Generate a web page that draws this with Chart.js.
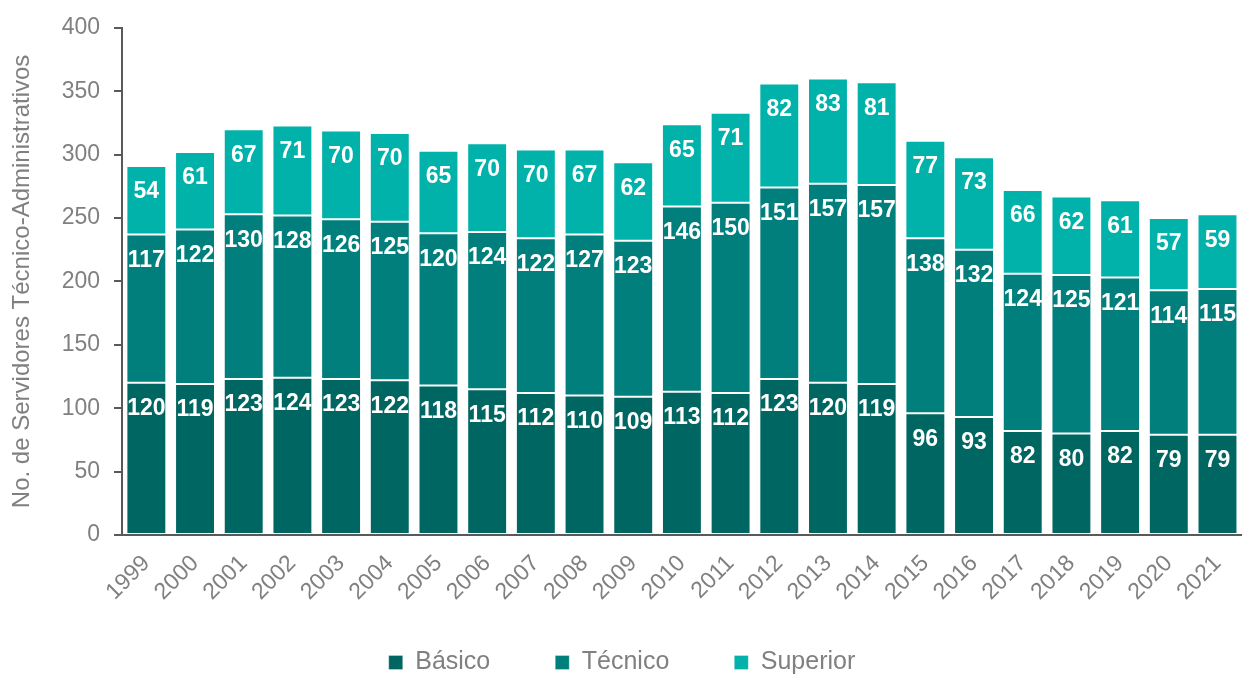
<!DOCTYPE html>
<html>
<head>
<meta charset="utf-8">
<script src="https://cdn.jsdelivr.net/npm/chart.js@4.4.1/dist/chart.umd.min.js"></script>
<style>
  html, body { margin: 0; padding: 0; background: #fff; overflow: hidden; }
  #wrap { width: 1244px; height: 685px; }
</style>
</head>
<body>
<div id="wrap"><canvas id="chart"></canvas></div>
<script>
const years = ["1999", "2000", "2001", "2002", "2003", "2004", "2005", "2006", "2007", "2008", "2009", "2010",
  "2011", "2012", "2013", "2014", "2015", "2016", "2017", "2018", "2019", "2020", "2021"];
const basico = [120, 119, 123, 124, 123, 122, 118, 115, 112, 110, 109, 113, 112, 123, 120, 119, 96, 93, 82, 80, 82, 79, 79];
const tecnico = [117, 122, 130, 128, 126, 125, 120, 124, 122, 127, 123, 146, 150, 151, 157, 157, 138, 132, 124, 125, 121, 114, 115];
const superior = [54, 61, 67, 71, 70, 70, 65, 70, 70, 67, 62, 65, 71, 82, 83, 81, 77, 73, 66, 62, 61, 57, 59];
const yTicks = [0, 50, 100, 150, 200, 250, 300, 350, 400];

const FONT = "'Liberation Sans', Arial, sans-serif";
const GRAY = "#808080";

// white value labels just inside the top of each segment
const barLabels = {
  id: "barLabels",
  afterDatasetsDraw(chart) {
    const ctx = chart.ctx;
    ctx.save();
    ctx.font = "bold 23px " + FONT;
    ctx.fillStyle = "#fff";
    ctx.textAlign = "center";
    ctx.textBaseline = "middle";
    chart.data.datasets.forEach((ds, i) => {
      chart.getDatasetMeta(i).data.forEach((bar, j) => {
        ctx.fillText(ds.data[j], bar.x, bar.y + 26);
      });
    });
    ctx.restore();
  }
};

const ctx = document.getElementById("chart").getContext("2d");
new Chart(ctx, {
  type: "bar",
  data: {
    labels: years,
    datasets: [
      { label: "Básico", data: basico, backgroundColor: "#006661" },
      { label: "Técnico", data: tecnico, backgroundColor: "#007f7c" },
      { label: "Superior", data: superior, backgroundColor: "#00b2aa" }
    ].map(d => Object.assign(d, {
      borderColor: "rgba(255,255,255,0.3)",
      borderWidth: 1,
      borderSkipped: false,
      categoryPercentage: 1,
      barPercentage: 0.82
    }))
  },
  options: {
    responsive: true,
    maintainAspectRatio: false,
    animation: false,
    layout: { padding: { top: 27, right: 0, left: 0, bottom: 0 } },
    plugins: {
      tooltip: { enabled: false },
      legend: {
        position: "bottom",
        labels: {
          font: { family: FONT, size: 25 },
          color: GRAY,
          boxWidth: 14,
          boxHeight: 14,
          padding: 65
        }
      }
    },
    scales: {
      x: {
        stacked: true,
        grid: { display: false },
        border: { display: true, color: "#595959", width: 2 },
        afterFit(axis) {
          axis.height = 50;
          // let the rotated years run below the (shortened) axis box
          axis._computeLabelArea = () => undefined;
        },
        ticks: {
          font: { family: FONT, size: 23 },
          color: GRAY,
          minRotation: 45,
          maxRotation: 45,
          padding: 7
        }
      },
      y: {
        stacked: true,
        min: 0,
        max: 400,
        afterBuildTicks(axis) { axis.ticks = yTicks.map(v => ({ value: v })); },
        afterFit(axis) { axis.width = 122; },
        grid: { drawOnChartArea: false, color: "#595959", tickLength: 8, lineWidth: 2 },
        border: { display: true, color: "#595959", width: 2 },
        ticks: {
          font: { family: FONT, size: 23 },
          color: GRAY,
          padding: 14
        },
        title: {
          display: true,
          text: "No. de Servidores Técnico-Administrativos",
          font: { family: FONT, size: 24 },
          color: GRAY,
          padding: { top: 8, bottom: 0 }
        }
      }
    }
  },
  plugins: [barLabels]
});
</script>
</body>
</html>
